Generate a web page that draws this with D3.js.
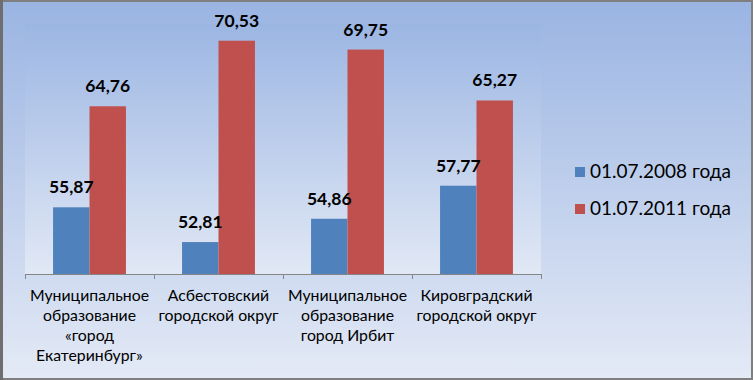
<!DOCTYPE html>
<html>
<head>
<meta charset="utf-8">
<script src="https://cdn.jsdelivr.net/npm/d3@7"></script>
<style>
  html, body { margin: 0; padding: 0; background: #ffffff; }
  svg { display: block; }
</style>
</head>
<body>
<div id="chart"></div>
<script>
// chart data
var categories = [
    ["Муниципальное", "образование", "«город", "Екатеринбург»"],
    ["Асбестовский", "городской округ"],
    ["Муниципальное", "образование", "город Ирбит"],
    ["Кировградский", "городской округ"]
];
var seriesNames = ["01.07.2008 года", "01.07.2011 года"];
var values2008 = [55.87, 52.81, 54.86, 57.77];
var values2011 = [64.76, 70.53, 69.75, 65.27];
var seriesColors = ["#4f81bd", "#c0504d"];
var yDomain = [50, 72];

// layout
var width = 753,
    height = 380,
    plot = { left: 25, top: 24, right: 541, bottom: 274 };

var svg = d3.select("#chart")
  .append("svg")
    .attr("width", width)
    .attr("height", height);

var defs = svg.append("defs");

function vgrad(id, c1, c2) {
    var g = defs.append("linearGradient")
        .attr("id", id)
        .attr("x1", 0).attr("y1", 0)
        .attr("x2", 0).attr("y2", 1);
    g.append("stop").attr("offset", "0%").attr("stop-color", c1);
    g.append("stop").attr("offset", "100%").attr("stop-color", c2);
}
vgrad("bgGrad", "#9ab4e2", "#e4eaf6");
vgrad("plotGrad", "#9cb6e3", "#e1e8f5");

// outer background + border
svg.append("rect")
    .attr("x", 0).attr("y", 0)
    .attr("width", width).attr("height", height)
    .attr("fill", "url(#bgGrad)");
svg.append("rect")
    .attr("x", 1).attr("y", 1)
    .attr("width", width - 2).attr("height", height - 2)
    .attr("fill", "none")
    .attr("stroke", "#7f7f7f")
    .attr("stroke-width", 2);
svg.append("rect")
    .attr("x", 0).attr("y", 0)
    .attr("width", 3).attr("height", height)
    .attr("fill", "#6e6e6e");

// plot area
svg.append("rect")
    .attr("x", plot.left).attr("y", plot.top)
    .attr("width", plot.right - plot.left)
    .attr("height", plot.bottom - plot.top)
    .attr("fill", "url(#plotGrad)");

var x0 = d3.scaleBand()
    .domain(d3.range(categories.length))
    .range([plot.left, plot.right])
    .paddingInner(0)
    .paddingOuter(0);

var x1 = d3.scaleBand()
    .domain(d3.range(seriesNames.length))
    .range([0, x0.bandwidth()])
    .paddingOuter(0.77)
    .paddingInner(0);

var y = d3.scaleLinear()
    .domain(yDomain)
    .range([plot.bottom, plot.top]);

var rows = categories.map(function(c, i) {
    return [values2008[i], values2011[i]];
});

var groups = svg.selectAll("g.grp")
    .data(rows)
    .enter()
    .append("g")
    .attr("class", "grp")
    .attr("transform", function(d, i) { return "translate(" + x0(i) + ",0)"; });

groups.selectAll("rect")
    .data(function(d) { return d; })
    .enter()
    .append("rect")
    .attr("x", function(d, j) { return x1(j); })
    .attr("width", x1.bandwidth())
    .attr("y", function(d) { return y(d); })
    .attr("height", function(d) { return plot.bottom - y(d); })
    .attr("fill", function(d, j) { return seriesColors[j]; });

groups.selectAll("text")
    .data(function(d) { return d; })
    .enter()
    .append("text")
    .attr("x", function(d, j) { return x1(j) + x1.bandwidth() / 2; })
    .attr("y", function(d) { return y(d) - 14; })
    .attr("text-anchor", "middle")
    .attr("font-family", "Lato, sans-serif")
    .attr("font-weight", "bold")
    .attr("font-size", "17.5px")
    .attr("fill", "#000")
    .text(function(d) { return d.toFixed(2).replace(".", ","); });

// x axis with ticks at category boundaries
var axisColor = "#868686";
svg.append("line")
    .attr("x1", plot.left).attr("x2", plot.right)
    .attr("y1", plot.bottom + 0.5).attr("y2", plot.bottom + 0.5)
    .attr("stroke", axisColor);
var bounds = d3.range(categories.length + 1).map(function(i) {
    return i < categories.length ? x0(i) : x0(i - 1) + x0.bandwidth();
});
svg.selectAll("line.tick")
    .data(bounds)
    .enter()
    .append("line")
    .attr("class", "tick")
    .attr("x1", function(d) { return Math.round(d) + 0.5; })
    .attr("x2", function(d) { return Math.round(d) + 0.5; })
    .attr("y1", plot.bottom)
    .attr("y2", plot.bottom + 5)
    .attr("stroke", axisColor);

// category labels
var catText = svg.selectAll("text.cat")
    .data(categories)
    .enter()
    .append("text")
    .attr("class", "cat")
    .attr("text-anchor", "middle")
    .attr("font-family", "Lato, sans-serif")
    .attr("font-size", "15.8px")
    .attr("fill", "#000");
catText.selectAll("tspan")
    .data(function(d, i) { return d.map(function(s) { return { s: s, i: i }; }); })
    .enter()
    .append("tspan")
    .attr("x", function(d) { return x0(d.i) + x0.bandwidth() / 2; })
    .attr("y", function(d, k) { return 301 + k * 20; })
    .text(function(d) { return d.s; });

// legend
var legend = svg.selectAll("g.leg")
    .data(seriesNames)
    .enter()
    .append("g")
    .attr("class", "leg")
    .attr("transform", function(d, i) { return "translate(575," + (167 + i * 37) + ")"; });
legend.append("rect")
    .attr("width", 10).attr("height", 10)
    .attr("fill", function(d, i) { return seriesColors[i]; });
legend.append("text")
    .attr("x", 15)
    .attr("y", 11)
    .attr("font-family", "Lato, sans-serif")
    .attr("font-size", "19px")
    .attr("fill", "#000")
    .text(function(d) { return d; });
</script>
</body>
</html>
